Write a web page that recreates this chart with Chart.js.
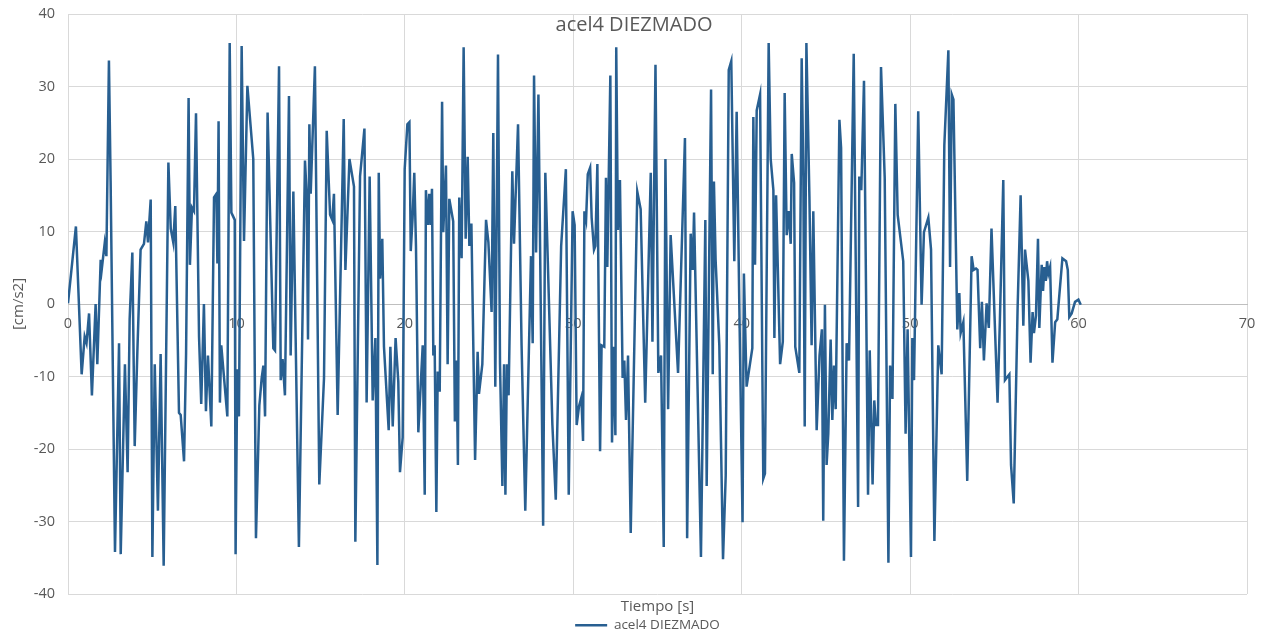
<!DOCTYPE html>
<html>
<head>
<meta charset="utf-8">
<script src="https://cdn.jsdelivr.net/npm/chart.js@4.4.1/dist/chart.umd.min.js"></script>
<style>
  html, body { margin: 0; padding: 0; background: #fff; }
  #wrap { width: 1261px; height: 635px; }
</style>
</head>
<body>
<div id="wrap"><canvas id="myChart"></canvas></div>
<script>
// tiempo [s] and acceleration [cm/s2] (peaks and valleys)
const tiempo = [
  0,0.47,0.81,0.99,1.1,1.25,1.42,1.64,1.74,1.94,2,2.18,2.28,2.43,2.53,2.79,3.03,3.13,3.38,3.54,3.66,3.82,3.96,4.12,4.31,4.51,4.65,4.75,4.91,5.01,5.15,5.34,5.5,5.68,5.96,6.1,6.25,6.37,6.59,6.69,6.89,7.01,7.16,7.24,7.36,7.48,7.6,7.78,7.91,8.07,8.19,8.31,8.51,8.67,8.81,8.87,8.94,9.02,9.1,9.46,9.6,9.7,9.9,
  9.95,10.05,10.15,10.31,10.45,10.65,11.0,11.16,11.36,11.5,11.6,11.7,11.85,12.19,12.29,12.53,12.63,12.74,12.88,13.12,13.22,13.38,13.71,14.07,14.17,14.25,14.33,14.41,14.66,14.92,15.2,15.36,15.56,15.69,15.79,16.01,16.37,16.47,16.71,16.98,17.06,17.34,17.6,17.73,17.91,18.09,18.25,18.37,18.45,18.53,18.66,18.76,19.04,19.14,19.28,19.45,19.61,
  19.71,19.87,19.99,20.15,20.27,20.35,20.46,20.56,20.66,20.8,21.06,21.18,21.25,21.37,21.45,21.53,21.61,21.69,21.77,21.87,21.95,22.07,22.21,22.28,22.44,22.54,22.64,22.87,22.97,23.07,23.15,23.23,23.37,23.49,23.61,23.73,23.83,23.95,24.17,24.32,24.4,24.6,24.82,24.96,25.15,25.25,25.37,25.53,25.65,25.79,25.89,25.97,26.06,26.16,26.38,26.48,26.72,26.93,27.15,27.49,27.59,27.67,27.79,27.93,28.21,28.34,28.76,28.96,29.28,29.56,29.73,
  29.96,30.08,30.2,30.34,30.48,30.58,30.66,30.76,30.86,31.0,31.09,31.23,31.31,31.43,31.59,31.68,31.84,31.94,32.02,32.2,32.3,32.4,32.5,32.55,32.65,32.77,32.93,33.03,33.13,33.25,33.41,33.8,34.0,34.27,34.6,34.7,34.88,35.05,35.21,35.37,35.47,35.63,35.78,36.22,36.63,36.76,36.97,37.09,37.17,37.58,37.84,37.92,38.18,38.28,38.35,38.45,38.67,38.77,38.89,39.05,39.23,39.38,39.56,39.7,39.86,
  40.05,40.13,40.29,40.63,40.69,40.79,40.89,41.09,41.28,41.38,41.6,41.72,41.88,41.94,42.04,42.28,42.44,42.55,42.67,42.79,42.91,42.97,43.11,43.18,43.42,43.56,43.66,43.74,43.84,44.02,44.15,44.25,44.45,44.62,44.76,44.84,44.94,45.04,45.14,45.28,45.38,45.48,45.58,45.8,45.9,46.07,46.23,46.37,46.65,46.91,46.98,47.1,47.26,47.5,47.6,47.77,47.87,47.97,48.09,48.27,48.49,48.71,48.81,48.95,49.12,49.26,49.59,49.73,49.85,
  50.05,50.13,50.23,50.48,50.68,50.82,51.08,51.24,51.44,51.67,51.87,52.03,52.27,52.37,52.47,52.57,52.8,52.92,53.0,53.16,53.39,53.65,53.77,53.91,54.0,54.16,54.26,54.38,54.54,54.67,54.83,55.19,55.33,55.53,55.63,55.89,55.99,56.15,56.38,56.56,56.72,56.82,57.02,57.15,57.27,57.35,57.47,57.59,57.67,57.81,57.89,57.97,58.05,58.13,58.21,58.31,58.45,58.61,58.74,58.86,59.04,59.26,59.36,59.45,59.59,59.79,59.99,60.13
];
const acel = [
  0.1,10.7,-9.7,-4.5,-5.4,-1.3,-12.6,0,-8.3,6.1,4.7,8.4,6.6,33.6,17,-34.2,-5.4,-34.5,-8.3,-23.2,-2.1,7.1,-19.6,-6.4,7.5,8.3,11.4,8.5,14.4,-34.9,-8.3,-28.5,-6.9,-36.1,19.5,10.4,8.5,13.5,-15,-15.3,-21.7,-6.9,28.4,5.4,13.3,12.8,26.3,-4.5,-13.8,0,-14.8,-7.1,-16.9,14.7,15.2,5.6,25.2,-13.6,-5.7,-15.5,36,12.6,11.6,
  -34.5,-9,-15.5,35.6,8.7,30.1,20,-32.3,-14,-10.2,-8.5,-15.5,26.4,-6.1,-6.4,32.8,-10.5,-7.6,-12.6,28.7,-7.1,15.5,-33.5,19.8,15.2,-4.9,24.8,15.2,32.8,-24.9,-10.2,23.9,12.3,11.6,15.2,-15.3,25.5,4.7,20,16.2,-32.8,17.6,24.2,-13.6,17.6,-13.3,-4.7,-36,18.1,3.5,9,-5.9,-17.4,-5.9,-16.9,-4.7,-10.7,
  -23.2,-18.4,18.6,24.8,25.1,7.3,11.9,18.1,8,-17.7,-5.7,-26.3,15.7,10.9,15.2,10.9,15.9,-7.1,-5.7,-28.7,-9.3,-12.1,27.9,9.9,19.1,-8.3,14.5,11.4,-16.2,-7.8,-22.2,14.7,6.3,35.4,9,20.3,8,11.1,-21.5,-6.6,-12.4,-8.3,11.6,8.5,-1.1,23.6,-11.4,34.4,-8.3,-25.1,-8.3,-26.3,-8.3,-12.6,18.3,8.3,24.8,-5.7,-28.5,6.6,-5.4,31.5,7.1,28.9,-30.6,18.1,-16.7,-27,8,18.6,-26.3,
  12.8,10.9,-16.7,-14.1,-12.9,-18.9,12.8,11.6,17.9,18.8,11.9,7.5,8,19.3,-20.3,-5.7,-5.9,17.4,5.1,31.5,-19.1,-5.9,-18.1,35.4,10.2,17.1,-10.2,-7.8,-16,-7.1,-31.6,15.5,13.1,-13.6,18.1,-5.2,33,-9.5,-7.1,-33.5,20,-14.5,9.5,-9.5,22.9,-32.3,9.7,4.7,12.6,-34.9,11.6,-25.1,29.6,-9.7,16.9,6.1,-5.7,-19.1,-35.2,-23.7,32.3,33.5,5.9,26.5,-0.6,
  -30.1,4.2,-11.4,-6.1,25.8,5.4,26.7,28.9,-24.1,-23.4,36,20,15.7,-4.7,15,-8.3,-5.2,29.1,9.5,12.8,8.3,20.7,16.7,-5.9,-9.5,33.9,17.6,-16.9,36,14.7,-5.7,12.8,-17.4,-7.1,-3.5,-29.9,-0.1,-22.2,-17.9,-4.9,-16,-8.5,-14.5,25.4,21.5,-35.4,-5.4,-7.8,34.5,-28,17.6,15.7,30.8,-26.3,-6.4,-24.9,-13.3,-16.7,-16.7,32.7,17.4,-35.7,-8.5,-13.1,27.6,12.3,5.9,-17.9,-3.5,
  -34.9,-4.7,-10.5,26.6,-0.1,9.9,11.9,7.5,-32.7,-5.7,-9.7,21.9,35,5.1,28.9,28.2,-3.5,1.5,-4,-2.5,-24.4,6.6,4.7,4.9,4.7,-6.1,0.3,-7.8,0.1,-3.3,10.4,-13.6,-2.1,17.1,-10.5,-9.7,-22.2,-27.5,-0.6,15,-3,7.5,3.2,-8.1,-1.1,-4,-1.6,9,-3.3,5.4,1.8,5.1,3.2,5.9,4.2,5.1,-8.1,-2.5,-2.1,1.3,6.3,5.9,4.7,-1.8,-1.3,0.3,0.6,-0.1
];
const xTicks = [0, 10, 20, 30, 40, 50, 60, 70];
const yTicks = [-40, -30, -20, -10, 0, 10, 20, 30, 40];

const serie = "acel4 DIEZMADO";
const gris = '#595959';
const fuente = "'Open Sans', 'Liberation Sans', sans-serif";

// title sits inside the plot area, like the Excel original
const tituloPlugin = {
    id: 'titulo',
    afterLayout(chart) {
        // nudge the legend a bit to the right, where Excel had it
        chart.legend.left += 10;
        chart.legend.right += 10;
    },
    afterDraw(chart) {
        const ctx = chart.ctx;
        ctx.save();
        ctx.fillStyle = gris;
        ctx.font = "20px " + fuente;
        ctx.textAlign = 'center';
        ctx.textBaseline = 'middle';
        ctx.fillText(serie, 634, 25);
        ctx.restore();
    }
};

const ctx = document.getElementById('myChart').getContext('2d');
const myChart = new Chart(ctx, {
    type: 'line',
    data: {
        datasets: [{
            label: serie,
            data: tiempo.map((t, i) => ({x: t, y: acel[i]})),
            borderColor: '#285f91',
            backgroundColor: '#285f91',
            borderWidth: 2.5,
            pointRadius: 0,
            tension: 0,
            fill: false
        }]
    },
    options: {
        responsive: true,
        maintainAspectRatio: false,
        animation: false,
        layout: { padding: { left: 28, right: 14, top: 14, bottom: -7 } },
        plugins: {
            legend: {
                position: 'bottom',
                labels: {
                    usePointStyle: true,
                    pointStyle: 'line',
                    pointStyleWidth: 32,
                    padding: 0,
                    color: gris,
                    font: { family: fuente, size: 13.5 }
                }
            },
            tooltip: { enabled: false }
        },
        scales: {
            x: {
                type: 'linear',
                position: { y: 0 },
                min: 0, max: 70,
                afterBuildTicks: s => { s.ticks = xTicks.map(v => ({value: v})); },
                afterFit: s => { s.paddingLeft = 0; s.paddingRight = 0; },
                grid: { color: '#d9d9d9', drawTicks: false },
                border: { color: '#bfbfbf', width: 1 },
                ticks: { color: gris, padding: 11, font: { family: fuente, size: 14.5 } }
            },
            x2: {
                type: 'linear',
                position: 'bottom',
                grid: { display: false },
                border: { display: false },
                ticks: { display: false },
                title: { display: true, text: 'Tiempo [s]', color: gris, padding: { top: 0, bottom: 3 }, font: { family: fuente, size: 15 } },
                afterFit: s => { s.height = 24.5; }
            },
            y: {
                min: -40, max: 40,
                afterBuildTicks: s => { s.ticks = yTicks.map(v => ({value: v})); },
                grid: { color: '#d9d9d9', drawTicks: false },
                border: { display: false },
                ticks: { color: gris, padding: 13, font: { family: fuente, size: 14.5 } },
                title: { display: true, text: '[cm/s2]', color: gris, padding: { top: -18, bottom: 0 }, font: { family: fuente, size: 15 } },
                afterFit: s => { s.width = 40; s.paddingTop = 0; s.paddingBottom = 0; }
            }
        }
    },
    plugins: [tituloPlugin]
});
</script>
</body>
</html>
